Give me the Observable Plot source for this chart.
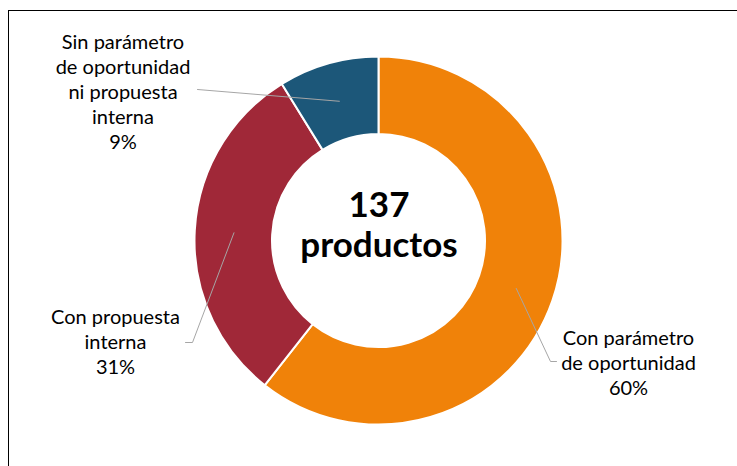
<!DOCTYPE html>
<html><head><meta charset="utf-8">
<script src="https://cdn.jsdelivr.net/npm/d3@7"></script>
<script src="https://cdn.jsdelivr.net/npm/@observablehq/plot@0.6"></script>
<style>
body{margin:0;background:#fff;}
#wrap{position:relative;width:737px;height:466px;overflow:hidden;background:#fff;}
#frame{position:absolute;left:8px;top:10px;width:760px;height:480px;border-top:1.3px solid #000;border-left:1.3px solid #000;pointer-events:none;}
#wrap svg{position:absolute;left:0;top:0;}
</style></head><body><div id="wrap"><div id="frame"></div></div>
<script>
// ---- data ----
const categories = ["Con parámetro de oportunidad", "Con propuesta interna", "Sin parámetro de oportunidad ni propuesta interna"];
const shares = [60.6, 30.6, 8.8];            // % of 137 products
const percentLabels = ["60%", "31%", "9%"];
const labelLines = [
  ["Con parámetro", "de oportunidad"],
  ["Con propuesta", "interna"],
  ["Sin parámetro", "de oportunidad", "ni propuesta", "interna"]
];
const colors = ["#F08209", "#A02838", "#1C5779"];
const centerLines = ["137", "productos"];

// ---- layout (pixels, relative to donut centre) ----
const W = 737, H = 466, CX = 378.5, CY = 240.5, R = 184, R0 = 106.5;
const lineStep = 25;
const layout = [
  {label: [249.5, 103.5], leader: [[171.5, 120.5], [177.5, 120.5]]},
  {label: [-263.5, 82.8], leader: [[-186.5, 101.5], [-193.5, 101.5]]},
  {label: [-256, -192.5], leader: [[-181.5, -151.5]]}
];
const centerDy = [-23.8, 15.5];

const pie = d3.pie().sort(null).value(d => d.share);
const slices = pie(categories.map((c, i) => ({category: c, share: shares[i], color: colors[i]})));

// leader line rows
const leaderRows = [];
slices.forEach((s, i) => {
  const a = (s.startAngle + s.endAngle) / 2, rm = (R + R0) / 2;
  leaderRows.push({k: i, x: rm * Math.sin(a), y: -rm * Math.cos(a)});
  layout[i].leader.forEach(([x, y]) => leaderRows.push({k: i, x, y}));
});

// text rows
const textRows = [];
categories.forEach((c, i) => {
  const lines = [...labelLines[i], percentLabels[i]];
  lines.forEach((t, j) => textRows.push({x: layout[i].label[0], y: layout[i].label[1] + j * lineStep, t}));
});
const centerRows = centerLines.map((t, j) => ({x: 0, y: centerDy[j], t}));

function donut(index, scales) {
  const g = d3.create("svg:g").attr("transform", `translate(${scales.x(0)},${scales.y(0)})`);
  const arc = d3.arc().innerRadius(R0).outerRadius(R);
  g.selectAll("path").data(slices).join("path")
    .attr("d", arc)
    .attr("fill", d => d.data.color)
    .attr("stroke", "#fff")
    .attr("stroke-width", 2)
    .attr("stroke-linejoin", "round");
  return g.node();
}

const chart = Plot.plot({
  width: W, height: H,
  margin: 0,
  x: {domain: [-CX, W - CX], range: [0, W], axis: null},
  y: {domain: [-CY, H - CY], range: [0, H], axis: null},
  style: {background: "transparent", fontFamily: "Lato, sans-serif"},
  marks: [
    donut,
    Plot.line(leaderRows, {x: "x", y: "y", z: "k", stroke: "#a6a6a6", strokeWidth: 1}),
    Plot.text(textRows, {x: "x", y: "y", text: "t", lineAnchor: "bottom", textAnchor: "middle",
      fontSize: 20, fontFamily: "Lato", fill: "#000"}),
    Plot.text(centerRows, {x: "x", y: "y", text: "t", lineAnchor: "bottom", textAnchor: "middle",
      fontSize: 35, fontWeight: "bold", fontFamily: "Lato", fill: "#000"})
  ]
});
document.getElementById("wrap").appendChild(chart);
</script>
</body></html>
